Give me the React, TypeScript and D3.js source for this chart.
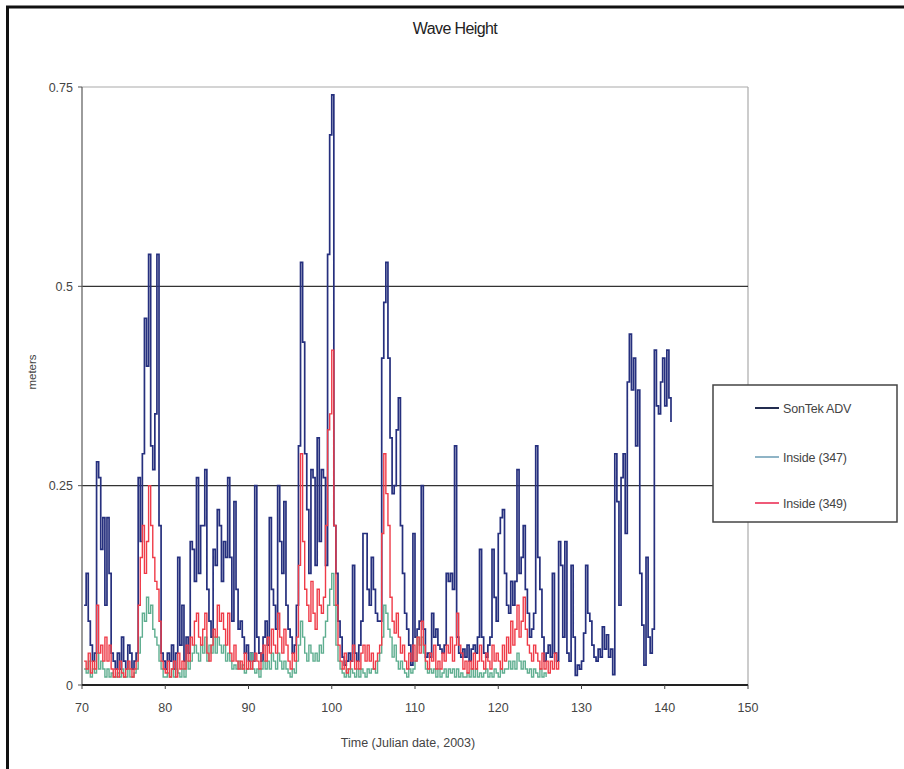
import React from "react";
import * as d3 from "d3";

// Time axis: first sample at day 70.25, one sample every 0.25 day
const T0 = 70.25;
const DT = 0.25;

// SonTek ADV (m)
const sontek = [
  0.10, 0.14, 0.08,
  0.05, 0.03, 0.04, 0.28,
  0.26, 0.17, 0.21, 0.10,
  0.21, 0.14, 0.04, 0.03,
  0.02, 0.04, 0.02, 0.06,
  0.03, 0.02, 0.05, 0.04,
  0.02, 0.03, 0.04, 0.26,
  0.18, 0.29, 0.46, 0.40,
  0.54, 0.30, 0.27, 0.34,
  0.54, 0.20, 0.04, 0.03,
  0.02, 0.04, 0.03, 0.05,
  0.02, 0.04, 0.16, 0.05,
  0.10, 0.03, 0.06, 0.04,
  0.18, 0.17, 0.13, 0.26,
  0.14, 0.20, 0.20, 0.27,
  0.12, 0.08, 0.06, 0.17,
  0.15, 0.22, 0.20, 0.13,
  0.18, 0.16, 0.26, 0.16,
  0.08, 0.23, 0.12, 0.07,
  0.08, 0.06, 0.04, 0.05,
  0.03, 0.04, 0.03, 0.25,
  0.06, 0.04, 0.03, 0.06,
  0.08, 0.05, 0.21, 0.12,
  0.10, 0.07, 0.25, 0.18,
  0.14, 0.23, 0.10, 0.07,
  0.06, 0.04, 0.05, 0.10,
  0.30, 0.53, 0.43, 0.29,
  0.22, 0.14, 0.27, 0.26,
  0.15, 0.31, 0.18, 0.27,
  0.26, 0.15, 0.54, 0.69,
  0.74, 0.20, 0.14, 0.08,
  0.06, 0.035, 0.025, 0.03,
  0.04, 0.03, 0.15, 0.04,
  0.03, 0.05, 0.08, 0.19,
  0.19, 0.12, 0.10, 0.16,
  0.12, 0.09, 0.08, 0.08,
  0.41, 0.48, 0.53, 0.41,
  0.31, 0.24, 0.25, 0.32,
  0.36, 0.20, 0.14, 0.09,
  0.07, 0.05, 0.025, 0.19,
  0.06, 0.07, 0.08, 0.25,
  0.07, 0.035, 0.04, 0.035,
  0.09, 0.06, 0.07, 0.05,
  0.045, 0.04, 0.05, 0.14,
  0.13, 0.14, 0.12, 0.30,
  0.06, 0.04, 0.035, 0.045,
  0.035, 0.05, 0.03, 0.045,
  0.05, 0.04, 0.06, 0.17,
  0.06, 0.04, 0.035, 0.05,
  0.06, 0.17, 0.11, 0.08,
  0.19, 0.21, 0.22, 0.14,
  0.10, 0.09, 0.13, 0.10,
  0.13, 0.27, 0.14, 0.16,
  0.20, 0.12, 0.09, 0.06,
  0.07, 0.09, 0.30, 0.16,
  0.12, 0.06, 0.03, 0.04,
  0.05, 0.035, 0.14, 0.04,
  0.03, 0.18, 0.15, 0.06,
  0.18, 0.04, 0.03, 0.15,
  0.06, 0.012, 0.025, 0.02,
  0.03, 0.065, 0.15, 0.09,
  0.08, 0.05, 0.035, 0.03,
  0.045, 0.035, 0.073, 0.045,
  0.063, 0.035, 0.045, 0.013,
  0.29, 0.23, 0.10, 0.26,
  0.29, 0.19, 0.38, 0.44,
  0.37, 0.41, 0.30, 0.37,
  0.14, 0.075, 0.025, 0.16,
  0.06, 0.04, 0.07, 0.42,
  0.35, 0.34, 0.38, 0.41,
  0.35, 0.42, 0.36, 0.33,
];

// Inside (347) (m)
const inside347 = [
  0.02, 0.015, 0.03,
  0.01, 0.02, 0.015, 0.04,
  0.02, 0.03, 0.02, 0.01,
  0.02, 0.01, 0.015, 0.01,
  0.01, 0.015, 0.01, 0.02,
  0.01, 0.01, 0.02, 0.01,
  0.01, 0.015, 0.02, 0.04,
  0.06, 0.09, 0.08, 0.11,
  0.09, 0.10, 0.07, 0.06,
  0.05, 0.03, 0.02, 0.01,
  0.01, 0.015, 0.01, 0.02,
  0.01, 0.02, 0.015, 0.01,
  0.02, 0.01, 0.03, 0.02,
  0.03, 0.04, 0.05, 0.04,
  0.03, 0.05, 0.04, 0.06,
  0.03, 0.05, 0.04, 0.06,
  0.04, 0.06, 0.05, 0.04,
  0.05, 0.03, 0.04, 0.03,
  0.02, 0.025, 0.02, 0.03,
  0.02, 0.025, 0.015, 0.02,
  0.02, 0.04, 0.02, 0.015,
  0.02, 0.01, 0.02, 0.03,
  0.02, 0.03, 0.02, 0.04,
  0.03, 0.02, 0.04, 0.03,
  0.02, 0.03, 0.02, 0.015,
  0.01, 0.02, 0.015, 0.03,
  0.05, 0.08, 0.06, 0.04,
  0.03, 0.05, 0.04, 0.03,
  0.04, 0.03, 0.05, 0.04,
  0.06, 0.08, 0.10, 0.12,
  0.14, 0.10, 0.05, 0.03,
  0.02, 0.015, 0.01, 0.02,
  0.01, 0.02, 0.015, 0.01,
  0.02, 0.01, 0.02, 0.015,
  0.01, 0.02, 0.015, 0.02,
  0.02, 0.015, 0.03, 0.04,
  0.06, 0.10, 0.09, 0.07,
  0.06, 0.035, 0.05, 0.03,
  0.02, 0.03, 0.02, 0.015,
  0.01, 0.02, 0.015, 0.02,
  0.03, 0.06, 0.05, 0.06,
  0.04, 0.02, 0.015, 0.02,
  0.015, 0.02, 0.01, 0.02,
  0.01, 0.015, 0.02, 0.01,
  0.02, 0.015, 0.02, 0.01,
  0.02, 0.01, 0.015, 0.01,
  0.01, 0.015, 0.01, 0.02,
  0.01, 0.02, 0.01, 0.015,
  0.01, 0.015, 0.02, 0.01,
  0.015, 0.01, 0.02, 0.015,
  0.01, 0.02, 0.015, 0.02,
  0.02, 0.03, 0.02, 0.03,
  0.02, 0.04, 0.03, 0.02,
  0.03, 0.02, 0.015, 0.02,
  0.01, 0.02, 0.015, 0.01,
  0.02, 0.01, 0.015, 0.01,
];

// Inside (349) (m)
const inside349 = [
  0.03, 0.02, 0.04,
  0.015, 0.03, 0.02, 0.10,
  0.04, 0.05, 0.03, 0.06,
  0.03, 0.05, 0.02, 0.01,
  0.02, 0.01, 0.03, 0.015,
  0.01, 0.02, 0.03, 0.02,
  0.01, 0.02, 0.03, 0.10,
  0.16, 0.20, 0.14, 0.18,
  0.25, 0.20, 0.16, 0.13,
  0.12, 0.08, 0.03, 0.02,
  0.015, 0.03, 0.01, 0.02,
  0.03, 0.01, 0.04, 0.02,
  0.03, 0.02, 0.05, 0.03,
  0.06, 0.05, 0.08, 0.09,
  0.06, 0.05, 0.07, 0.09,
  0.04, 0.03, 0.05, 0.07,
  0.06, 0.10, 0.08, 0.09,
  0.07, 0.05, 0.09, 0.04,
  0.03, 0.05, 0.03, 0.02,
  0.03, 0.02, 0.04, 0.02,
  0.03, 0.02, 0.03, 0.04,
  0.03, 0.02, 0.04, 0.05,
  0.03, 0.06, 0.04, 0.07,
  0.05, 0.04, 0.09, 0.06,
  0.04, 0.07, 0.05, 0.03,
  0.02, 0.04, 0.03, 0.06,
  0.15, 0.29, 0.18, 0.12,
  0.10, 0.08, 0.13, 0.09,
  0.07, 0.12, 0.10, 0.09,
  0.11, 0.20, 0.32, 0.34,
  0.42, 0.20, 0.10, 0.05,
  0.03, 0.02, 0.04, 0.015,
  0.02, 0.03, 0.05, 0.02,
  0.03, 0.02, 0.04, 0.05,
  0.03, 0.05, 0.03, 0.04,
  0.02, 0.03, 0.04, 0.05,
  0.19, 0.29, 0.24, 0.20,
  0.11, 0.08, 0.065, 0.09,
  0.06, 0.04, 0.05, 0.03,
  0.02, 0.04, 0.03, 0.05,
  0.03, 0.06, 0.04, 0.08,
  0.05, 0.03, 0.02, 0.04,
  0.03, 0.05, 0.02, 0.03,
  0.02, 0.04, 0.03, 0.05,
  0.04, 0.06, 0.03, 0.05,
  0.09, 0.05, 0.04, 0.02,
  0.03, 0.015, 0.03, 0.02,
  0.04, 0.02, 0.03, 0.05,
  0.03, 0.02, 0.04, 0.03,
  0.02, 0.05, 0.03, 0.04,
  0.03, 0.02, 0.05, 0.03,
  0.06, 0.04, 0.08, 0.05,
  0.07, 0.10, 0.06, 0.08,
  0.11, 0.07, 0.05, 0.04,
  0.03, 0.05, 0.04, 0.03,
  0.02, 0.04, 0.02, 0.03,
  0.015, 0.03, 0.02, 0.04,
  0.02, 0.03,
];

const xTicks = [70, 80, 90, 100, 110, 120, 130, 140, 150];
const yTicks = [0, 0.25, 0.5, 0.75];
const yTickLabels = ["0", "0.25", "0.5", "0.75"];
const seriesNames = ["SonTek ADV", "Inside (347)", "Inside (349)"];
const seriesColors = ["#26307e", "#5fae90", "#ef3b48"];
const legendColors = ["#232d50", "#8fb4c6", "#ef5a78"];

const W = 904;
const H = 769;
const left = 82;
const right = 748;
const top = 87;
const bottom = 685;
const FONT = "'Liberation Sans', Arial, sans-serif";

export default function App() {
  const x = d3.scaleLinear().domain([70, 150]).range([left, right]);
  const y = d3.scaleLinear().domain([0, 0.75]).range([bottom, top]);
  const line = d3
    .line<number>()
    .x((_, i) => x(T0 + i * DT))
    .y((d) => y(d))
    .curve(d3.curveStepAfter);

  const series = [sontek, inside347, inside349];
  const legendY = [408, 457, 503];

  return (
    <svg
      width={W}
      height={H}
      style={{ position: "absolute", left: 0, top: 0, background: "#fff" }}
      fontFamily={FONT}
    >
      <rect x={0} y={0} width={W} height={H} fill="#fff" />
      {/* outer frame */}
      <line x1={6} y1={7} x2={W} y2={7} stroke="#111" strokeWidth={3} />
      <line x1={7.5} y1={6} x2={7.5} y2={H} stroke="#111" strokeWidth={3} />

      <text x={455} y={34} textAnchor="middle" fontSize={16} fill="#222" letterSpacing={-0.6}>
        Wave Height
      </text>

      {/* plot border (top, right) */}
      <line x1={left} y1={y(0.75)} x2={right} y2={y(0.75)} stroke="#aaa" strokeWidth={1.2} />
      <line x1={right} y1={top} x2={right} y2={bottom} stroke="#aaa" strokeWidth={1.2} />

      {/* gridlines */}
      {[0.25, 0.5].map((v) => (
        <line key={v} x1={left} y1={y(v)} x2={right} y2={y(v)} stroke="#333" strokeWidth={1.3} />
      ))}

      {/* series */}
      {series.map((s, i) => (
        <path
          key={i}
          d={line(s) || ""}
          fill="none"
          stroke={seriesColors[i]}
          strokeWidth={i === 0 ? 1.7 : 1.4}
          strokeLinejoin="miter"
        />
      ))}

      {/* axes */}
      <line x1={left} y1={top} x2={left} y2={bottom} stroke="#666" strokeWidth={1.3} />
      <line x1={left} y1={bottom} x2={right} y2={bottom} stroke="#222" strokeWidth={2} />
      {yTicks.map((v, i) => (
        <g key={v}>
          <line x1={left - 4} y1={y(v)} x2={left} y2={y(v)} stroke="#555" strokeWidth={1} />
          <text x={left - 9} y={y(v) + 4.5} textAnchor="end" fontSize={12.5} fill="#444">
            {yTickLabels[i]}
          </text>
        </g>
      ))}
      {xTicks.map((v) => (
        <g key={v}>
          <line x1={x(v)} y1={bottom} x2={x(v)} y2={bottom + 4} stroke="#444" strokeWidth={1} />
          <text x={x(v)} y={bottom + 27} textAnchor="middle" fontSize={12.5} fill="#444">
            {v}
          </text>
        </g>
      ))}

      <text x={408} y={747} textAnchor="middle" fontSize={12.5} fill="#444">
        Time (Julian date, 2003)
      </text>
      <text
        transform={`translate(36,372) rotate(-90)`}
        textAnchor="middle"
        fontSize={11.5}
        fill="#444"
      >
        meters
      </text>

      {/* legend */}
      <rect x={713} y={385} width={184} height={137} fill="#fff" stroke="#444" strokeWidth={1.5} />
      {seriesNames.map((n, i) => (
        <g key={n}>
          <line x1={755} y1={legendY[i]} x2={779} y2={legendY[i]} stroke={legendColors[i]} strokeWidth={2} />
          <text x={783} y={legendY[i] + 4.5} fontSize={12.5} fill="#444" letterSpacing={-0.2}>
            {n}
          </text>
        </g>
      ))}
    </svg>
  );
}
